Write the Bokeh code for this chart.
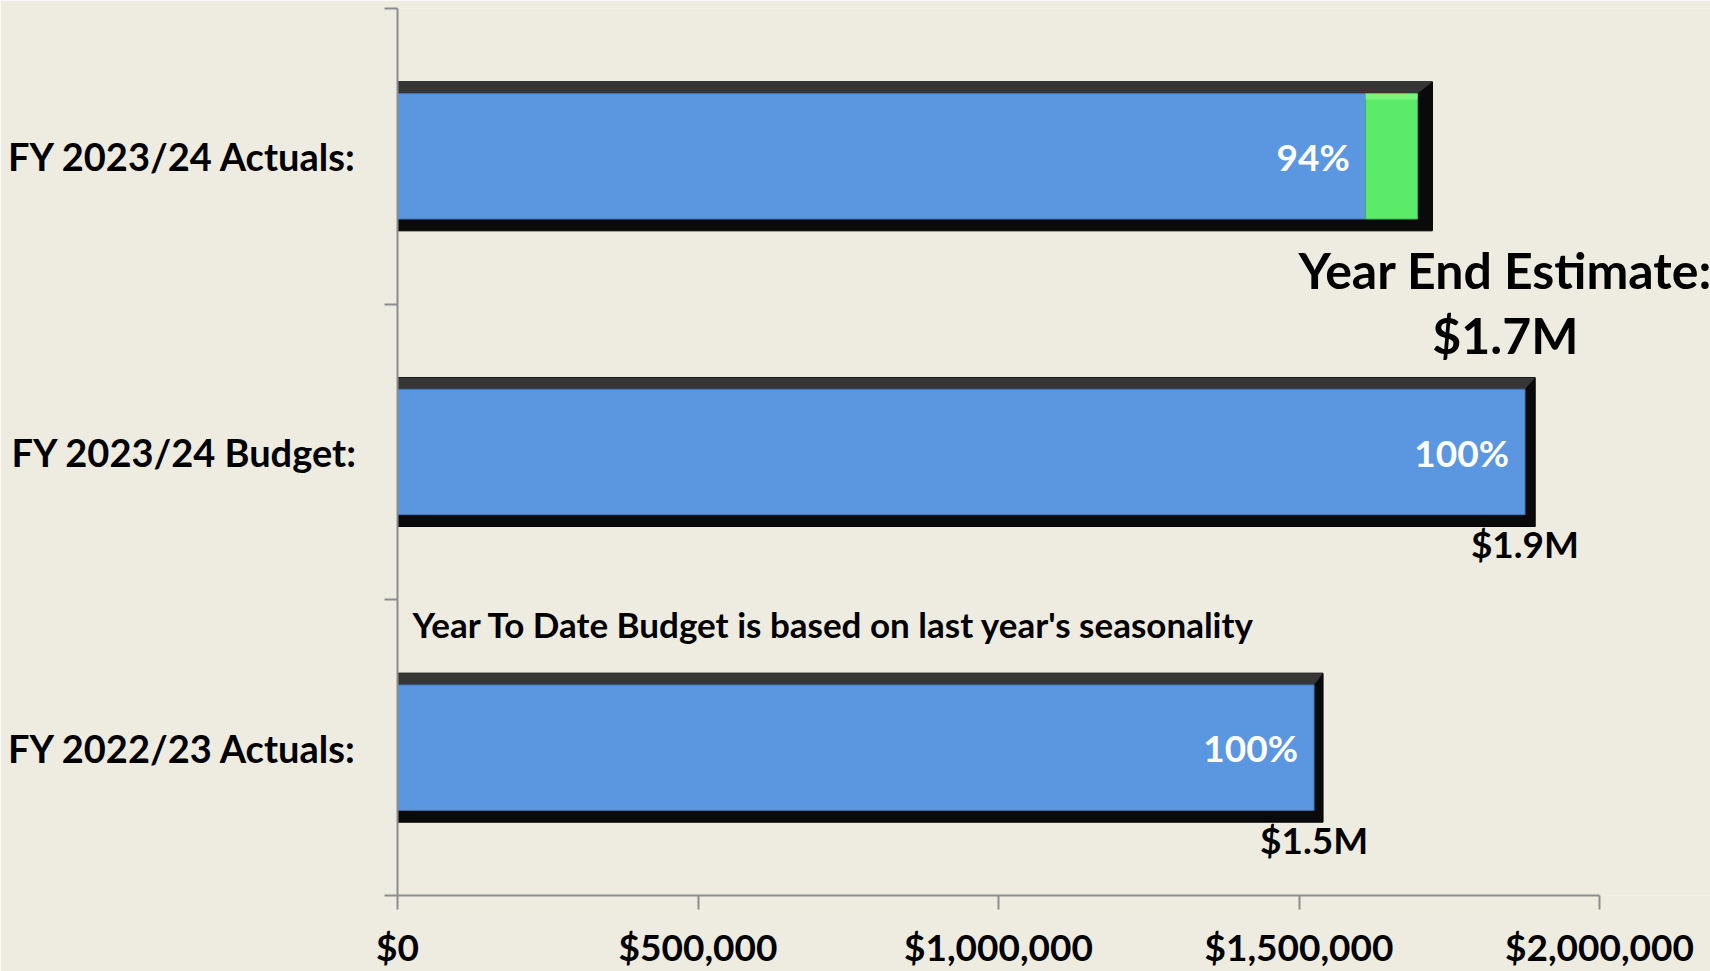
from bokeh.plotting import figure
from bokeh.models import Range1d, FixedTicker, Label
from bokeh.core.properties import value
from bokeh.embed import file_html
from bokeh.resources import INLINE

# ---- data ----
categories = ["FY 2022/23 Actuals:", "FY 2023/24 Budget:", "FY 2023/24 Actuals:"]
ytd_values = [1_525_000, 1_876_000, 1_611_000]
estimate_values = [1_525_000, 1_876_000, 1_697_000]
frame_values = [1_540_000, 1_893_000, 1_722_000]
pct_labels = ["100%", "100%", "94%"]
value_labels = ["$1.5M", "$1.9M", ""]
estimate_title = "Year End Estimate:"
estimate_label = "$1.7M"
note_text = "Year To Date Budget is based on last year's seasonality"
x_ticks = [0, 500_000, 1_000_000, 1_500_000, 2_000_000]
x_tick_labels = ["$0", "$500,000", "$1,000,000", "$1,500,000", "$2,000,000"]

BG = "#EEECE1"
AXIS = "#8C8C8C"
FONT = value("Lato")

# plot area: axis spans 1202 px for 0..2M; the frame continues 111 px further right
# (without axis) so the estimate annotation is not clipped
axis_px = 1202
extra_px = 111
x_max = x_ticks[-1] * (axis_px + extra_px) / axis_px

p = figure(width=1710, height=971, output_backend="svg", toolbar_location=None,
           x_range=Range1d(0, x_max), y_range=Range1d(0, 3),
           min_border_left=397, min_border_right=0, min_border_top=8, min_border_bottom=75)
p.background_fill_color = BG
p.border_fill_color = BG
p.outline_line_color = None
p.xgrid.grid_line_color = None
p.ygrid.grid_line_color = None

pos = [i + 0.5 for i in range(len(categories))]
outer_h = 0.504
inner_h = 0.424

# outer black frames
p.quad(left=[0] * 3, right=frame_values,
       bottom=[c - outer_h / 2 for c in pos], top=[c + outer_h / 2 for c in pos],
       fill_color="#0A0A0A", line_color="#000000", line_width=1)
# top bevel (dark grey trapezoid)
xs, ys = [], []
for c, fe, y, e in zip(pos, frame_values, ytd_values, estimate_values):
    inner_end = max(y, e)
    xs.append([0, fe, inner_end, 0])
    ys.append([c + outer_h / 2, c + outer_h / 2, c + inner_h / 2, c + inner_h / 2])
p.patches(xs, ys, fill_color="#363636", line_color=None)

# year-to-date bars (blue)
p.quad(left=[0] * 3, right=ytd_values,
       bottom=[c - inner_h / 2 for c in pos], top=[c + inner_h / 2 for c in pos],
       fill_color="#5B97E0", line_color="#4577B8", line_width=1)

# remaining estimate (green)
gl, gr, gb, gt = [], [], [], []
for c, y, e in zip(pos, ytd_values, estimate_values):
    if e > y:
        gl.append(y); gr.append(e); gb.append(c - inner_h / 2); gt.append(c + inner_h / 2)
p.quad(left=gl, right=gr, bottom=gb, top=gt,
       fill_color="#5BEB69", line_color="#3FBF4F", line_width=1)
# light highlight along the top of the green segment
p.quad(left=gl, right=gr, bottom=[t - 0.02 for t in gt], top=gt,
       fill_color="#7CF47F", line_color=None)

# percent labels inside bars
p.text(x=ytd_values, y=pos, text=pct_labels, text_color="white", text_font=FONT,
       text_font_style="bold", text_font_size="37px", text_align="right",
       text_baseline="middle", x_offset=-16)

# value labels under bars
vx, vy, vt = [], [], []
for c, y, t in zip(pos, ytd_values, value_labels):
    if t:
        vx.append(y); vy.append(c - outer_h / 2); vt.append(t)
p.text(x=vx, y=vy, text=vt, text_color="black", text_font=FONT, text_font_style="bold",
       text_font_size="37px", text_align="center", text_baseline="middle", y_offset=17)

# year end estimate annotation
top_c = pos[-1] - outer_h / 2
p.add_layout(Label(x=estimate_values[-1], y=top_c, text=estimate_title, text_color="black",
                   text_font="Lato", text_font_style="bold", text_font_size="50px",
                   text_align="center", text_baseline="middle", x_offset=88, y_offset=-39))
p.add_layout(Label(x=estimate_values[-1], y=top_c, text=estimate_label, text_color="black",
                   text_font="Lato", text_font_style="bold", text_font_size="50px",
                   text_align="center", text_baseline="middle", x_offset=88, y_offset=-104))

# note
p.text(x=[0], y=[pos[0] + outer_h / 2], text=[note_text], text_color="black",
       text_font=FONT, text_font_style="bold", text_font_size="35px",
       text_align="left", text_baseline="middle", x_offset=15, y_offset=-49)

# axes
xa = p.xaxis[0]
xa.ticker = FixedTicker(ticks=x_ticks)
xa.bounds = (x_ticks[0], x_ticks[-1])
xa.major_label_overrides = {t: l for t, l in zip(x_ticks, x_tick_labels)}
xa.axis_line_color = AXIS
xa.axis_line_width = 2
xa.major_tick_line_color = AXIS
xa.major_tick_line_width = 2
xa.major_tick_out = 14
xa.major_tick_in = 0
xa.minor_tick_line_color = None
xa.major_label_text_font = "Lato"
xa.major_label_text_font_style = "bold"
xa.major_label_text_font_size = "37px"
xa.major_label_text_color = "black"
xa.major_label_standoff = 14

ya = p.yaxis[0]
ya.ticker = FixedTicker(ticks=pos, minor_ticks=[0, 1, 2, 3])
ya.major_label_overrides = {c: l for c, l in zip(pos, categories)}
ya.axis_line_color = AXIS
ya.axis_line_width = 2
ya.major_tick_line_color = None
ya.major_tick_out = 13
ya.minor_tick_line_color = AXIS
ya.minor_tick_line_width = 2
ya.minor_tick_out = 13
ya.minor_tick_in = 0
ya.major_label_text_font = "Lato"
ya.major_label_text_font_style = "bold"
ya.major_label_text_font_size = "38px"
ya.major_label_text_color = "black"
ya.major_label_standoff = 27

open("out.html", "w").write(file_html(p, INLINE))
